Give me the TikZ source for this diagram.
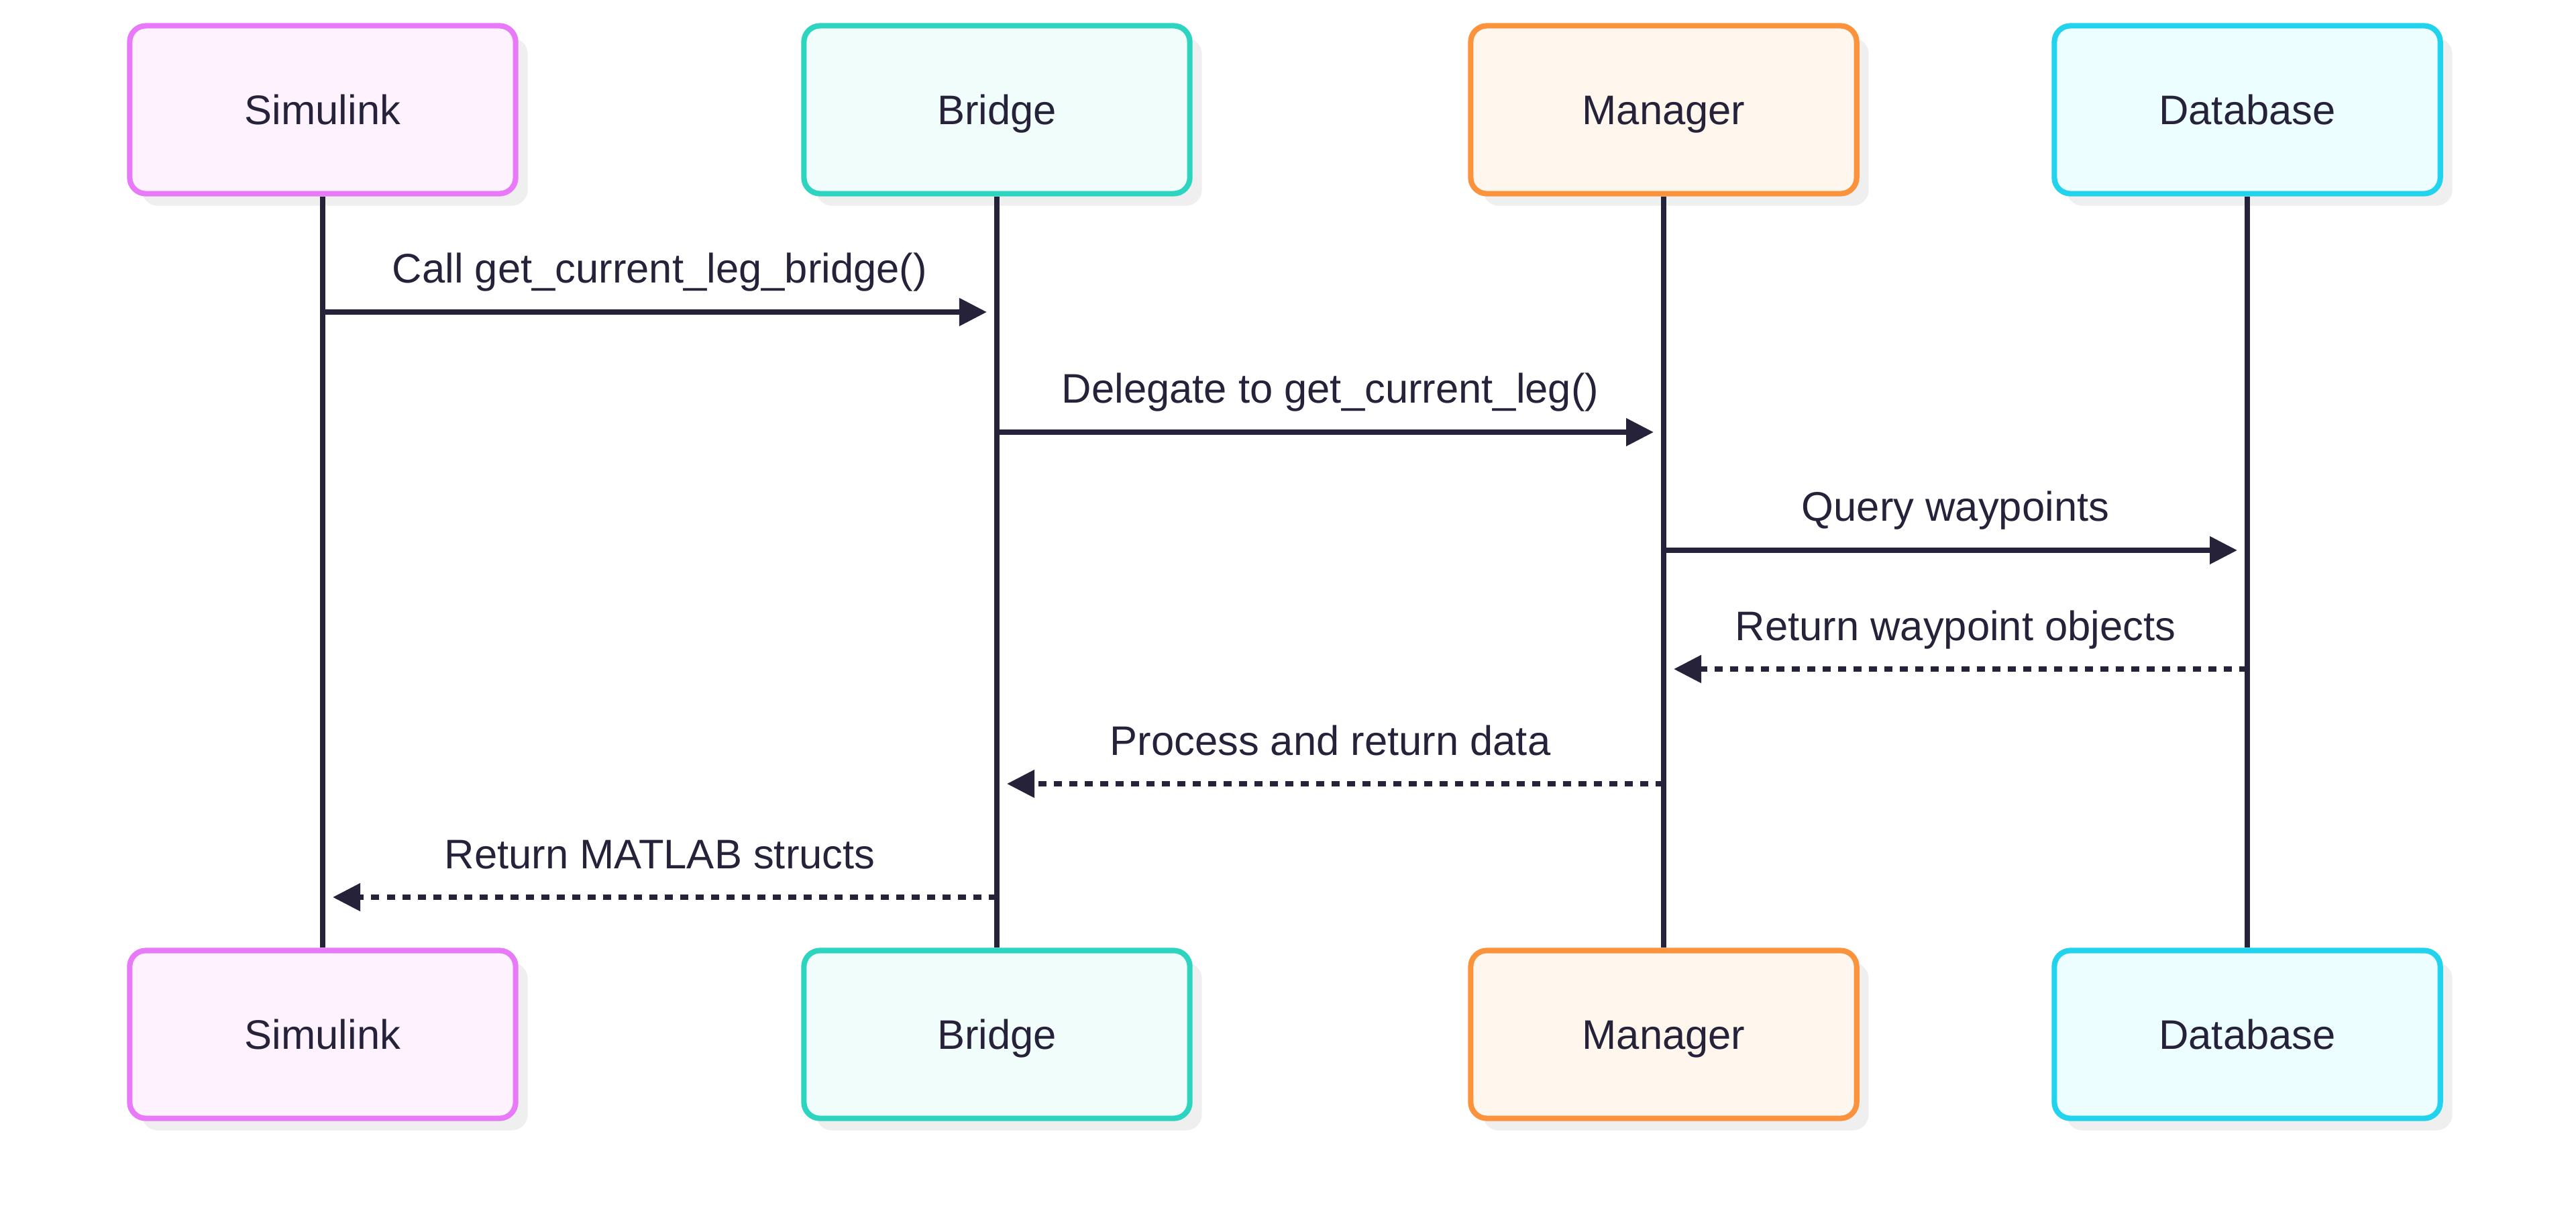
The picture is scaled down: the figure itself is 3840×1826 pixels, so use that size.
\documentclass[tikz,border=0pt]{standalone}
\usepackage{fontspec}
\setmainfont{Liberation Sans}
\usetikzlibrary{arrows.meta,shadows}
\definecolor{ink}{HTML}{26223A}
\definecolor{shadowgray}{HTML}{EFEFEF}
\definecolor{simB}{HTML}{E879F9}\definecolor{simF}{HTML}{FDF2FE}
\definecolor{brgB}{HTML}{2DD4BF}\definecolor{brgF}{HTML}{F0FDFA}
\definecolor{mgrB}{HTML}{FB923C}\definecolor{mgrF}{HTML}{FFF7ED}
\definecolor{dbB}{HTML}{22D3EE}\definecolor{dbF}{HTML}{ECFEFF}
\begin{document}
\begin{tikzpicture}[x=0.01cm,y=-0.01cm,
  actor/.style={rounded corners=0.24cm, line width=2.3pt, minimum width=5.75cm,
    minimum height=2.5cm, text=ink, font=\fontsize{17.5}{21}\selectfont,
    text height=12.6pt, text depth=0pt,
    drop shadow={shadow xshift=0.18cm, shadow yshift=-0.18cm, fill=shadowgray, opacity=1}},
  life/.style={draw=ink, line width=2.2pt},
  msg/.style={draw=ink, line width=2.2pt, -{Triangle[length=0.41cm,width=0.40cm]}, shorten >=0.15cm},
  reply/.style={msg, dash pattern=on 0.12cm off 0.11cm},
  lbl/.style={anchor=base, yshift=0.43cm, text=ink, font=\fontsize{17.5}{21}\selectfont}]
\useasboundingbox[fill=white] (0,0) rectangle (3840,1826);

\node[actor, draw=simB, fill=simF] (simT) at (481,163.5) {Simulink};
\node[actor, draw=brgB, fill=brgF] (brgT) at (1486,163.5) {Bridge};
\node[actor, draw=mgrB, fill=mgrF] (mgrT) at (2480,163.5) {Manager};
\node[actor, draw=dbB, fill=dbF] (dbT) at (3350,163.5) {Database};

\node[actor, draw=simB, fill=simF] (simE) at (481,1541.5) {Simulink};
\node[actor, draw=brgB, fill=brgF] (brgE) at (1486,1541.5) {Bridge};
\node[actor, draw=mgrB, fill=mgrF] (mgrE) at (2480,1541.5) {Manager};
\node[actor, draw=dbB, fill=dbF] (dbE) at (3350,1541.5) {Database};

\draw[life] (simT.south) -- (simE.north);
\draw[life] (brgT.south) -- (brgE.north);
\draw[life] (mgrT.south) -- (mgrE.north);
\draw[life] (dbT.south) -- (dbE.north);

\coordinate (m1) at (0,465);
\coordinate (m2) at (0,644);
\coordinate (m3) at (0,820);
\coordinate (m4) at (0,997);
\coordinate (m5) at (0,1168);
\coordinate (m6) at (0,1337);

\draw[msg] (simT |- m1) -- node[lbl] {Call get\_current\_leg\_bridge()} (brgT |- m1);
\draw[msg] (brgT |- m2) -- node[lbl] {Delegate to get\_current\_leg()} (mgrT |- m2);
\draw[msg] (mgrT |- m3) -- node[lbl] {Query waypoints} (dbT |- m3);
\draw[reply] (dbT |- m4) -- node[lbl] {Return waypoint objects} (mgrT |- m4);
\draw[reply] (mgrT |- m5) -- node[lbl] {Process and return data} (brgT |- m5);
\draw[reply] (brgT |- m6) -- node[lbl] {Return MATLAB structs} (simT |- m6);
\end{tikzpicture}
\end{document}
